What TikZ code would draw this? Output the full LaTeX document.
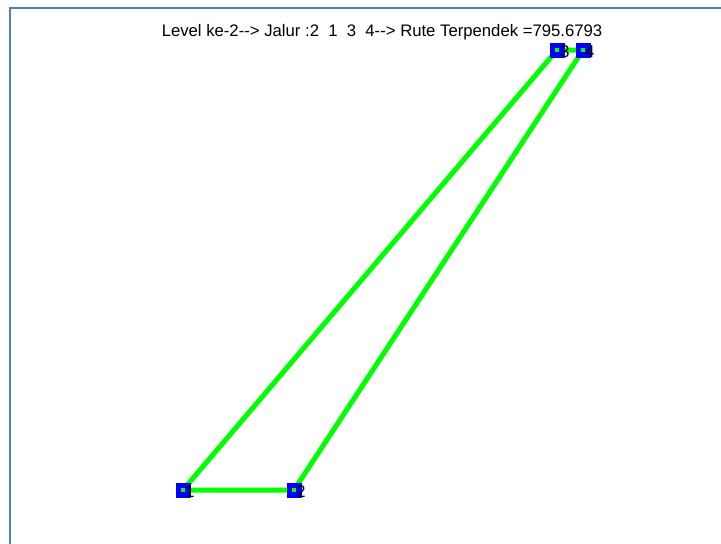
\documentclass[tikz,border=0pt]{standalone}
\usepackage{fontspec}
\setmainfont{Liberation Sans}
\begin{document}
\begin{tikzpicture}[x=1pt,y=-1pt,
  edge/.style={draw={rgb,255:red,0;green,255;blue,0},line width=5pt},
  city/.style={rectangle,fill={rgb,255:red,0;green,0;blue,255},minimum size=15pt,inner sep=0pt},
  dot/.style={rectangle,fill={rgb,255:red,0;green,255;blue,0},minimum size=3.5pt,inner sep=0pt},
  lbl/.style={anchor=base west,inner sep=0pt,text=black,font=\fontsize{17pt}{17pt}\selectfont}]
\useasboundingbox (0,0) rectangle (721,544);
\draw[draw={rgb,255:red,79;green,129;blue,189},line width=2pt] (9.5,544) -- (9.5,7.5) -- (721,7.5);
\node[font=\fontsize{16.7pt}{18pt}\selectfont,inner sep=0pt,anchor=base] (title) at (382,36) {Level ke-2{-}{-}> Jalur :2\ \ 1\ \ 3\ \ 4{-}{-}> Rute Terpendek =795.6793};
\coordinate (p1) at (183,490);
\coordinate (p2) at (294,490);
\coordinate (p3) at (557,50);
\coordinate (p4) at (583,50);
\draw[edge] (p2) -- (p1) -- (p3) -- (p4) -- (p2);
\node[city] (c1) at (p1) {};
\node[city] (c2) at (p2) {};
\node[city] (c3) at (p3) {};
\node[city] (c4) at (p4) {};
\node[dot] (d1) at (p1) {};
\node[dot] (d2) at (p2) {};
\node[dot] (d3) at (p3) {};
\node[dot] (d4) at (p4) {};
\node[lbl] (l1) at (185,497) {1};
\node[lbl] (l2) at (296,497) {2};
\node[lbl] (l3) at (560,57) {3};
\node[lbl] (l4) at (585,57) {4};
\end{tikzpicture}
\end{document}
